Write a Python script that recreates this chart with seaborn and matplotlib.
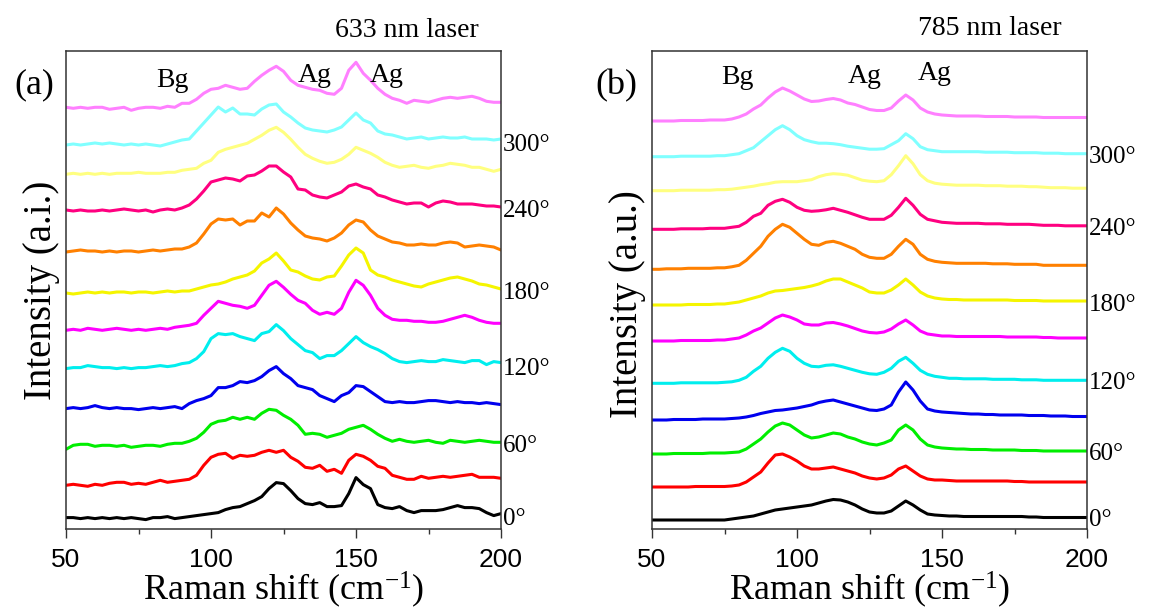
import numpy as np
import matplotlib
matplotlib.use("Agg")
import matplotlib.pyplot as plt
import matplotlib.transforms as mtransforms
import seaborn as sns

# Raman shift grid (cm-1), both panels
shift = np.arange(50, 200.1, 2.5)

angles = [0, 30, 60, 90, 120, 150, 180, 210, 240, 270, 300, 330]
colors = ['#000000', '#ff0000', '#00ee00', '#0000ee', '#00eeee', '#ff00ff',
          '#f5f500', '#ff8000', '#ff0080', '#ffff80', '#80ffff', '#ff80ff']

# ---- (a) 633 nm laser, intensity above each baseline (a.u.)
a_000 = [1, 1, 0, 1, 0, 1, 0, 1, 0, 1, 0, -1, 1, 1, 2, 0, 1, 2, 3, 4,
         5, 6, 9, 11, 12, 15, 18, 22, 30, 36, 35, 28, 20, 15, 14, 16, 12, 12, 13, 25,
         41, 34, 30, 14, 11, 10, 12, 8, 6, 8, 8, 8, 9, 11, 13, 11, 11, 10, 6, 3, 5]
a_030 = [0, 1, 0, -1, 1, 0, 2, 3, 3, 1, 2, 1, 3, 5, 3, 4, 5, 6, 10, 20,
         28, 31, 32, 27, 30, 29, 30, 33, 35, 33, 35, 28, 24, 18, 17, 20, 14, 16, 12, 25,
         31, 29, 25, 19, 17, 10, 8, 6, 6, 9, 7, 8, 9, 8, 9, 10, 11, 8, 8, 8, 7]
a_060 = [-3, 1, 2, 2, 0, 1, 1, 0, 1, -1, 0, 1, 1, 0, 2, 3, 3, 5, 8, 14,
         22, 25, 26, 29, 27, 29, 27, 33, 37, 36, 31, 27, 21, 12, 13, 12, 9, 11, 13, 17,
         19, 21, 17, 12, 8, 5, 7, 5, 4, 5, 6, 4, 3, 6, 5, 4, 5, 6, 5, 4, 4]
a_090 = [0, 1, 0, 1, 3, 1, 0, 1, 0, 0, -1, 0, 1, 0, 1, 2, 0, 5, 8, 10,
         13, 21, 21, 23, 27, 26, 28, 32, 38, 42, 35, 30, 23, 21, 19, 13, 10, 7, 13, 16,
         23, 22, 17, 12, 7, 6, 7, 6, 6, 7, 8, 8, 7, 6, 7, 6, 6, 5, 6, 5, 4]
a_120 = [0, 1, 1, 3, 2, 1, 1, 0, 1, 0, 1, 1, 2, 3, 2, 3, 5, 6, 10, 17,
         30, 35, 34, 35, 32, 30, 28, 35, 37, 44, 38, 30, 24, 18, 16, 10, 13, 13, 18, 25,
         32, 26, 22, 19, 15, 10, 7, 6, 7, 8, 7, 7, 9, 8, 7, 6, 8, 8, 4, 7, 6]
a_150 = [0, 1, 0, 2, 1, 0, 1, 2, 1, 0, 1, 0, 1, 2, 1, 3, 4, 5, 7, 15,
         22, 29, 27, 25, 24, 22, 25, 35, 45, 49, 43, 36, 30, 27, 20, 16, 18, 16, 22, 38,
         50, 45, 35, 22, 15, 11, 10, 10, 9, 9, 8, 8, 9, 11, 13, 15, 13, 10, 8, 7, 7]
a_180 = [0, -1, 0, 1, 0, 1, 0, 1, 1, 0, 1, 1, 0, 1, 2, 1, 2, 2, 4, 6,
         8, 9, 11, 14, 16, 18, 22, 30, 34, 40, 32, 23, 21, 17, 14, 13, 16, 17, 27, 38,
         45, 40, 23, 18, 16, 13, 11, 9, 7, 6, 9, 11, 13, 15, 16, 14, 12, 9, 8, 6, 4]
a_210 = [0, 1, 2, 1, 1, 0, 1, 0, 1, 1, 0, 1, 2, 1, 2, 3, 3, 5, 9, 18,
         28, 33, 32, 33, 27, 31, 31, 39, 35, 44, 38, 29, 22, 16, 14, 13, 11, 14, 19, 27,
         32, 30, 22, 16, 13, 10, 9, 7, 7, 8, 7, 7, 9, 10, 9, 5, 6, 7, 6, 5, 2]
a_240 = [1, 0, 1, 0, 0, 1, 0, 1, 2, 1, 0, 1, -1, 1, 2, 1, 3, 6, 12, 20,
         29, 31, 33, 32, 30, 35, 36, 40, 45, 45, 39, 34, 22, 21, 16, 14, 13, 16, 19, 25,
         27, 24, 22, 16, 14, 11, 9, 7, 8, 8, 4, 8, 10, 9, 7, 7, 7, 6, 5, 5, 4]
a_270 = [0, 1, 0, 1, 0, 1, 0, 1, 1, 1, 2, 1, 1, 1, 2, 2, 4, 5, 6, 11,
         14, 22, 25, 27, 29, 31, 35, 39, 44, 47, 42, 35, 27, 20, 16, 13, 11, 12, 15, 20,
         27, 24, 21, 17, 12, 9, 7, 8, 9, 7, 6, 8, 9, 11, 10, 9, 7, 7, 5, 3, 5]
a_300 = [0, 1, 0, 1, 2, 1, 2, 1, 0, 1, 0, 1, 0, -1, 1, 3, 5, 6, 14, 22,
         30, 38, 33, 37, 31, 31, 30, 36, 40, 41, 33, 28, 22, 17, 15, 14, 13, 15, 18, 25,
         32, 25, 22, 14, 11, 10, 8, 6, 7, 8, 6, 7, 8, 7, 7, 8, 6, 6, 6, 5, 6]
a_330 = [1, 0, 1, 0, 1, 1, -1, 0, 1, -2, 0, 1, 1, 0, 2, 1, 5, 5, 9, 15,
         19, 20, 23, 21, 19, 20, 27, 33, 38, 42, 37, 28, 23, 21, 19, 18, 15, 14, 20, 38,
         46, 35, 28, 20, 14, 10, 8, 5, 8, 7, 6, 8, 10, 11, 10, 11, 12, 10, 7, 6, 6]
base_a = [10.7, 44, 83, 120.7, 160.7, 199, 236.3, 277.3, 318.3, 355, 384.3, 421]

# ---- (b) 785 nm laser
b_000 = [0, 0, 0, 0, 0, 0, 0, 0, 0, 0, 0, 1, 2, 3, 4, 6, 8, 10, 11, 12,
         13, 14, 15, 17, 19, 20.5, 20, 18, 15, 11, 8, 7, 7, 9, 14, 19, 15, 10, 6, 5,
         4.5, 4, 4, 3.5, 3.5, 3.5, 3.5, 3.5, 3.5, 3.5, 3.5, 3.5, 3, 3, 2.5, 2.5, 2.5, 2.5, 2.5, 2.5, 2.5]
b_030 = [0, 0, 0, 0, 0, 0, 0.5, 0.5, 0.5, 0.5, 0.5, 1, 2, 5, 10, 15, 24, 32, 33, 30,
         26, 21, 18, 18, 19, 20, 18, 16, 14, 11, 9, 8, 9, 12, 18, 21, 16, 11, 8, 7,
         7, 6.5, 6, 6, 6, 6, 6, 6, 6, 6, 5.5, 5.5, 5, 5, 5, 5, 5, 5, 5, 5, 5]
b_060 = [0, 0, 0, 0.5, 0.5, 0.5, 0.5, 0.5, 1, 1, 1, 1.5, 2, 5, 10, 15, 22, 28, 31, 29,
         24, 19, 16, 17, 19, 21, 20, 17, 15, 12, 10, 9, 11, 14, 24, 29, 24, 15, 9, 7,
         6, 5.5, 5, 5, 4.5, 4.5, 4.5, 4, 4, 4, 4, 3.5, 3.5, 3.5, 3, 3, 3, 3, 3, 3, 3]
b_090 = [0, 0, 0, 0.5, 0.5, 0.5, 0.5, 1, 1, 1, 1, 1.5, 2, 3, 4.5, 6.5, 8, 9.5, 10, 11,
         12, 13.5, 15, 17.5, 19, 20, 18, 16, 14, 12, 10, 9.5, 11, 15, 28, 38, 30, 19, 11, 9,
         8, 7.5, 7, 6.5, 6, 6, 5.5, 5.5, 5, 5, 5, 5, 4.5, 4.5, 4.5, 4, 4, 4, 3.5, 3.5, 3.5]
b_120 = [0, 0, 0, 0, 0.5, 0.5, 0.5, 0.5, 0.5, 0.5, 1, 1.5, 3, 6, 12, 17, 25, 31, 35, 32,
         25, 20, 17, 16.5, 18, 18.5, 17, 15, 13, 11, 9.5, 9, 11, 15, 22, 26, 20, 13, 9, 7,
         6, 5, 5, 4.5, 4.5, 4.5, 4.5, 4, 4, 4, 4, 3.5, 3.5, 3.5, 3, 3, 3, 3, 3, 3, 3]
b_150 = [0, 0, 0, 0, 0.5, 0.5, 0.5, 0.5, 0.5, 1, 1, 2, 3, 6, 10, 13, 18, 23, 26, 24,
         21, 17, 16, 16, 18, 18.5, 17, 15, 12.5, 10, 8.5, 8, 9, 12, 17, 21, 16, 10, 7, 6,
         5, 5, 4.5, 4.5, 4.5, 4.5, 4.5, 4.5, 4.5, 4, 4, 4, 4, 4, 3.5, 3.5, 3, 3, 3, 3, 3]
b_180 = [0, 0, 0, 0, 0, 0.5, 0.5, 0.5, 0.5, 1, 1, 2, 3, 5, 7, 9, 12, 14, 14.5, 15.5,
         16.5, 17.5, 19, 21, 24, 26, 26, 23, 20, 17, 13, 12, 12, 15, 20, 26, 20, 13, 9, 7,
         6, 5.5, 5.5, 5, 5, 5, 5, 5, 5, 5, 4.5, 4.5, 4.5, 4.5, 4, 4, 4, 4, 4, 4, 4]
b_210 = [0, 0, 0.5, 0.5, 0.5, 1, 1, 1, 1, 1.5, 1.5, 2.5, 4, 9, 16, 23, 33, 40, 45, 42,
         36, 30, 25, 24, 27, 28, 26, 23, 20, 15, 12, 11, 11, 15, 23, 30, 25, 15, 10, 8,
         7, 6.5, 6, 6, 6, 6, 6, 5.5, 5.5, 5.5, 5, 5, 5, 5, 4, 4, 4, 4, 4, 4, 4]
b_240 = [0, 0, 0, 0, 0.5, 0.5, 0.5, 0.5, 1, 1, 1, 2, 3, 7, 13, 16, 24, 28, 30, 27,
         22, 19, 18, 18.5, 19.5, 21, 19, 17, 14.5, 12, 10, 10, 10, 14, 22, 31, 24, 15, 10, 8.5,
         7, 6.5, 6, 6, 6, 6, 5.5, 5.5, 5.5, 5, 5, 5, 5, 4.5, 4, 4, 4, 3.5, 3.5, 3.5, 3.5]
b_270 = [0, 0, 0, 0, 0.5, 0.5, 0.5, 0.5, 0.5, 1, 1, 1.5, 2.5, 3.5, 4.5, 6, 7, 8.5, 9, 9,
         9, 10, 11, 14, 16, 17, 16.5, 15.5, 13, 10.5, 9.5, 9, 10, 16, 25, 35, 27, 16, 10, 7.5,
         6.5, 6, 5.5, 5.5, 5.5, 5.5, 5, 5, 5, 4.5, 4.5, 4.5, 4, 4, 3.5, 3, 3, 3, 2.5, 2.5, 2.5]
b_300 = [0, 0, 0, 0, 0.5, 0.5, 0.5, 0.5, 0.5, 1, 1, 2, 3, 6, 9, 15, 21, 27, 31, 27,
         21, 17, 15, 13.5, 13.5, 13, 12, 10.5, 9.5, 8.5, 7.5, 7.5, 8, 12, 16, 23, 18, 10, 7, 6,
         5, 5, 5, 5, 5, 5, 4.5, 4.5, 4.5, 4.5, 4, 4, 4, 4, 3.5, 3.5, 3.5, 3, 3, 3, 3]
b_330 = [0, 0, 0, 0, 0.5, 0.5, 0.5, 0.5, 1, 1, 1, 2, 4, 7, 12, 16, 23, 29, 33, 30,
         26, 22, 19.5, 20, 21.5, 22.5, 21, 18, 16.5, 14, 11.5, 10.5, 10.5, 13, 20, 26, 21, 13, 9, 7,
         6, 5.5, 5, 5, 5, 5, 4.5, 4.5, 4.5, 4.5, 4, 4, 4, 4, 3.5, 3.5, 3.5, 3.5, 3.5, 3.5, 3.5]
base_b = [9.3, 42.3, 75.3, 109.3, 146, 188.3, 224.3, 260, 300, 338.6, 372.6, 408.3]

spec_a = [a_000, a_030, a_060, a_090, a_120, a_150, a_180, a_210, a_240, a_270, a_300, a_330]
spec_b = [b_000, b_030, b_060, b_090, b_120, b_150, b_180, b_210, b_240, b_270, b_300, b_330]

sns.set_style("ticks")
plt.rcParams['font.family'] = ['Liberation Serif', 'DejaVu Serif']
plt.rcParams['mathtext.fontset'] = 'custom'
plt.rcParams['mathtext.rm'] = 'Liberation Serif'
plt.rcParams['mathtext.it'] = 'Liberation Serif:italic'
plt.rcParams['text.color'] = 'black'
plt.rcParams['axes.labelcolor'] = 'black'
plt.rcParams['xtick.labelcolor'] = 'black'

W, H = 1149, 609
fig = plt.figure(figsize=(W / 100, H / 100), dpi=100)


def px(x, y):
    return x / W, 1 - y / H


def panel(left, spectra, bases, ylab, ylab_y, tag, laser, peaks):
    ax = fig.add_axes([left / W, (H - 529.3) / H, 435 / W, 478.6 / H])
    for vals, off, c in zip(spectra, bases, colors):
        sns.lineplot(x=shift, y=np.array(vals) + off, color=c, lw=2.2, ax=ax)
    ax.set_xlim(50, 200)
    ax.set_ylim(0, 478.6)
    ax.set_xticks([50, 100, 150, 200])
    ax.set_xticks([75, 125, 175], minor=True)
    ax.set_yticks([])
    ax.tick_params(axis='x', which='major', direction='out', length=6.5, width=1,
                   labelsize=19, pad=7, color='#333333')
    ax.tick_params(axis='x', which='minor', direction='out', length=3.5, width=1,
                   color='#333333')
    for lab in ax.get_xticklabels():
        lab.set_fontfamily('Liberation Sans')
    for s in ax.spines.values():
        s.set_visible(True)
        s.set_linewidth(1.1)
        s.set_color('#333333')
    ax.set_xlabel('Raman shift (cm$^{-1}$)', fontsize=26)
    ax.xaxis.set_label_coords(0.5, -0.1475)
    ax.xaxis.label.set_va('baseline')
    ax.set_ylabel(ylab, fontsize=28)
    ax.yaxis.set_label_coords(-0.014, ylab_y)
    # angle labels beside the right axis
    tr = mtransforms.blended_transform_factory(ax.transAxes, ax.transData)
    for i in range(0, 12, 2):
        ax.text(1.005, bases[i], f'{angles[i]}°', transform=tr, ha='left',
                va='center', fontsize=18, clip_on=False)
    fig.text(*px(tag[1], tag[2]), tag[0], fontsize=26, ha='center', va='baseline')
    fig.text(*px(laser[1], laser[2]), laser[0], fontsize=20, ha='center', va='baseline')
    for name, x, y in peaks:
        fig.text(*px(x, y), name, fontsize=20, ha='center', va='baseline')
    return ax


panel(66, spec_a, base_a, 'Intensity (a.i.)', 0.5, ('(a)', 34, 93),
      ('633 nm laser', 407, 37),
      [('Bg', 172, 87), ('Ag', 315, 82), ('Ag', 387, 82)])
panel(652, spec_b, base_b, 'Intensity (a.u.)', 0.47, ('(b)', 616, 94),
      ('785 nm laser', 990, 35),
      [('Bg', 737, 84), ('Ag', 865, 83), ('Ag', 935, 80)])

fig.savefig('out.png', dpi=100)
